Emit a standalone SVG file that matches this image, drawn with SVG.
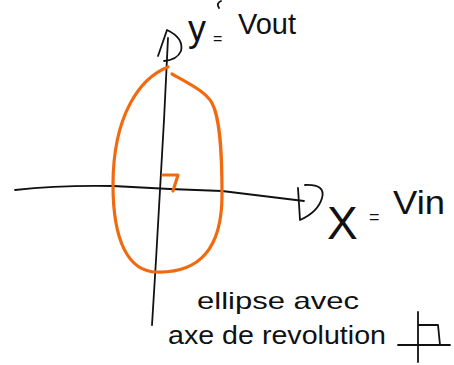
<svg xmlns="http://www.w3.org/2000/svg" width="454" height="365" viewBox="0 0 454 365">
<style>
.ink{fill:none;stroke:#111;stroke-width:1.8;stroke-linecap:round;stroke-linejoin:round}
.or{fill:none;stroke:#f26a10;stroke-width:3.2;stroke-linecap:round;stroke-linejoin:round}
.t{font-family:"Liberation Sans",Arial,sans-serif;fill:#111}
</style>
<rect width="454" height="365" fill="#fff"/>
<g id="axes">
<path class="ink" d="M152,325 L156,260 L160,190 L164,120 L168,38"/>
<path class="ink" d="M158,56 L167,30 Q184,38 181,51 Q177,60 164,61"/>
<path class="ink" d="M15,190 Q60,185 113,186 L170,189 L222,191 L304,201"/>
<path class="ink" d="M298,188 L300,220 Q318,212 322,198 Q326,184 305,185"/>
<path class="ink" d="M221,1 Q216,3 219,8"/>
</g>
<g id="ellipse">
<path class="or" d="M168,67 C140,78 113,115 113,185 C113,240 128,272 157,272 C200,273 222,248 222,195 C222,150 220,118 212,103 C206,92 190,84 172,74"/>
<path class="or" d="M163,175 L178,175 L173,191"/>
</g>
<g id="labels">
<text class="t" x="188" y="41" font-size="36">y</text>
<text class="t" x="213" y="44" font-size="16">=</text>
<text class="t" x="238" y="34" font-size="30" textLength="58" lengthAdjust="spacingAndGlyphs">Vout</text>
<text class="t" x="327" y="239" font-size="46">X</text>
<text class="t" x="369" y="223" font-size="18">=</text>
<text class="t" x="393" y="214" font-size="33" textLength="52" lengthAdjust="spacingAndGlyphs">Vin</text>
<text class="t" x="197" y="309" font-size="24" textLength="162" lengthAdjust="spacingAndGlyphs">ellipse avec</text>
<text class="t" x="168" y="344" font-size="26" textLength="218" lengthAdjust="spacingAndGlyphs">axe de revolution</text>
</g>
<g id="symbol">
<path class="ink" d="M398,345 L450,345 M418,312 L418,362 M418,325 L438,325 L440,345"/>
</g>
</svg>
